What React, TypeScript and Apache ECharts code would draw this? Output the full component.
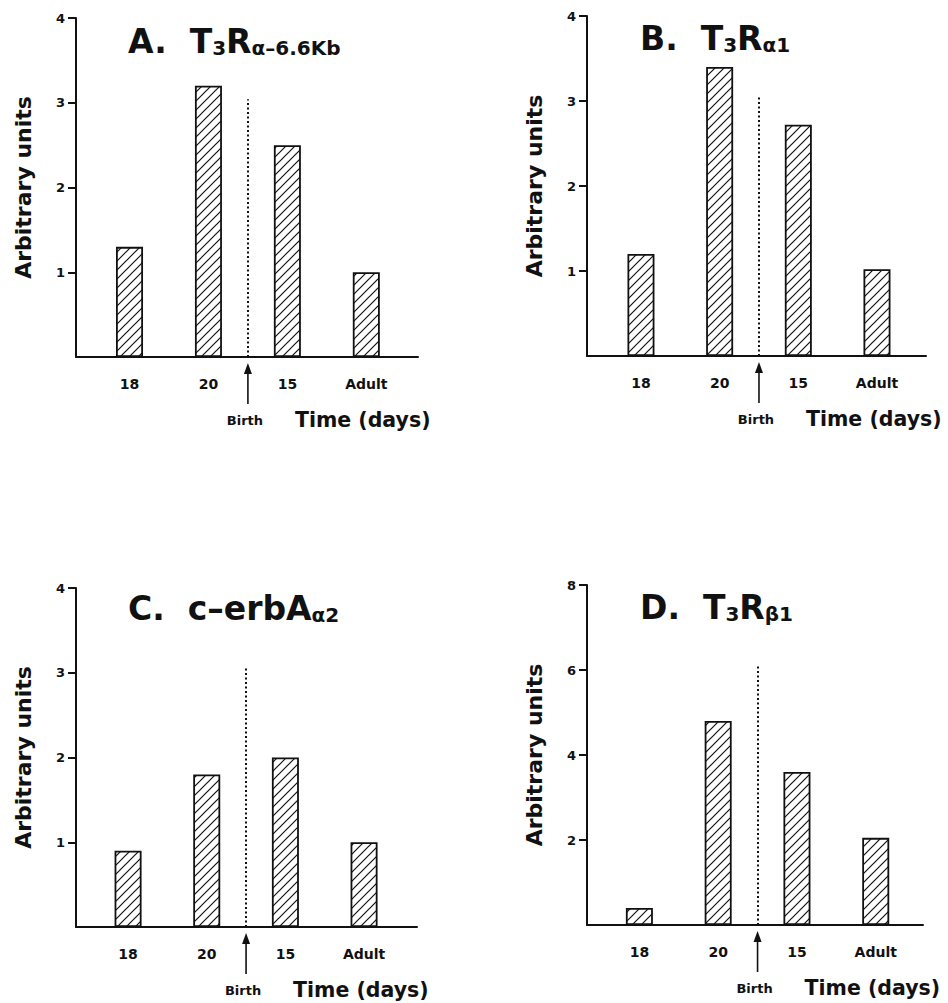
import React, { useEffect, useRef } from 'react';
import * as echarts from 'echarts';

const categories = ['18', '20', '15', 'Adult'];
const valuesA = [1.3, 3.2, 2.5, 1.0];
const valuesB = [1.2, 3.4, 2.72, 1.02];
const valuesC = [0.9, 1.8, 2.0, 1.0];
const valuesD = [0.4, 4.8, 3.6, 2.05];
const yMaxes = [4, 4, 4, 8];
const yIntervals = [1, 1, 1, 2];
const birthLineTops = [3.04, 3.05, 3.05, 6.08];
const birthPosition = 2.5;
const titleLetters = ['A.  ', 'B.  ', 'C.  ', 'D.  '];
const titleMains = [['T', '3', 'R', 'α–6.6Kb'], ['T', '3', 'R', 'α1'], ['c–erbA', '', '', 'α2'], ['T', '3', 'R', 'β1']];
const yAxisTitle = 'Arbitrary units';
const xAxisTitle = 'Time (days)';
const birthLabel = 'Birth';

const FONT = 'DejaVu Sans';
const INK = '#111';

const panels = [
  { left: 76, top: 18, width: 342, height: 339, xMin: 0.322, xMax: 4.655, titleX: 128, titleY: 38.5 },
  { left: 587, top: 16, width: 339, height: 340, xMin: 0.314, xMax: 4.623, titleX: 640, titleY: 36 },
  { left: 76, top: 588, width: 341, height: 339, xMin: 0.338, xMax: 4.673, titleX: 128, titleY: 606 },
  { left: 587, top: 585, width: 336, height: 340, xMin: 0.335, xMax: 4.6, titleX: 640, titleY: 605 },
];

const allValues = [valuesA, valuesB, valuesC, valuesD];

function makeHatch() {
  const s = 9;
  const c = document.createElement('canvas');
  c.width = s;
  c.height = s;
  const ctx = c.getContext('2d')!;
  ctx.fillStyle = '#fff';
  ctx.fillRect(0, 0, s, s);
  ctx.strokeStyle = INK;
  ctx.lineWidth = 1.2;
  ctx.beginPath();
  ctx.moveTo(-1, s + 1);
  ctx.lineTo(s + 1, -1);
  ctx.moveTo(-1, 1);
  ctx.lineTo(1, -1);
  ctx.moveTo(s - 1, s + 1);
  ctx.lineTo(s + 1, s - 1);
  ctx.stroke();
  return c;
}

export default function App() {
  const ref = useRef<HTMLDivElement>(null);
  useEffect(() => {
    if (!ref.current) return;
    const chart = echarts.init(ref.current, undefined, { renderer: 'svg' });
    const hatch = makeHatch();
    const pattern: any = { image: hatch, repeat: 'repeat', imageWidth: 9, imageHeight: 9 };

    const grid = panels.map((p) => ({ left: p.left, top: p.top, width: p.width, height: p.height, containLabel: false }));
    const xAxis = panels.map((p, i) => ({
      gridIndex: i,
      type: 'value',
      min: p.xMin,
      max: p.xMax,
      axisLine: { show: true, onZero: true, lineStyle: { color: INK, width: 2 } },
      axisTick: { show: false },
      splitLine: { show: false },
      axisLabel: {
        customValues: categories.map((_, k) => k + 1),
        formatter: (v: number) => categories[Math.round(v) - 1] ?? '',
        margin: 20,
        fontFamily: FONT,
        fontWeight: 'bold',
        fontSize: 14,
        color: INK,
      },
    }));
    const yAxis = panels.map((p, i) => ({
      gridIndex: i,
      type: 'value',
      min: 0,
      max: yMaxes[i],
      interval: yIntervals[i],
      name: yAxisTitle,
      nameLocation: 'middle',
      nameRotate: 90,
      nameGap: 42,
      nameTextStyle: { fontFamily: FONT, fontWeight: 'bold', fontSize: 22, color: INK },
      axisLine: { show: true, lineStyle: { color: INK, width: 2 } },
      axisTick: { show: true, length: 8, lineStyle: { color: INK, width: 2 } },
      axisLabel: { showMinLabel: false, margin: 11, fontFamily: FONT, fontWeight: 'bold', fontSize: 13, color: INK },
      splitLine: { show: false },
    }));
    const series = panels.map((p, i) => ({
      type: 'bar',
      xAxisIndex: i,
      yAxisIndex: i,
      barWidth: 27,
      data: categories.map((_, k) => [k + 1, allValues[i][k]]),
      itemStyle: { color: pattern, borderColor: INK, borderWidth: 1.8 },
      markLine: {
        silent: true,
        symbol: ['none', 'none'],
        label: { show: false },
        lineStyle: { color: INK, width: 2, type: [2, 2.5] },
        data: [[{ coord: [birthPosition, 0] }, { coord: [birthPosition, birthLineTops[i]] }]],
      },
    }));

    const titleGraphics = panels.map((p, i) => {
      const [t1, t2, t3, t4] = titleMains[i];
      let txt = `{m|${titleLetters[i]}${t1}}`;
      if (t2) txt += `{s|${t2}}`;
      if (t3) txt += `{m|${t3}}`;
      txt += `{s|${t4}}`;
      return {
        type: 'text',
        x: p.titleX,
        y: p.titleY,
        style: {
          text: txt,
          align: 'left',
          verticalAlign: 'middle',
          fill: INK,
          rich: {
            m: { fontFamily: FONT, fontWeight: 'bold', fontSize: 33, lineHeight: 38, verticalAlign: 'bottom', fill: INK },
            s: { fontFamily: FONT, fontWeight: 'bold', fontSize: 20, lineHeight: 21, verticalAlign: 'bottom', fill: INK },
          },
        },
      };
    });

    chart.setOption({
      animation: false,
      backgroundColor: '#fff',
      grid,
      xAxis,
      yAxis,
      series,
      graphic: titleGraphics,
    });

    const extra: any[] = [];
    panels.forEach((p, i) => {
      const pt = chart.convertToPixel({ gridIndex: i }, [birthPosition, 0]) as number[];
      const bx = pt[0];
      const by = pt[1];
      extra.push({
        type: 'line',
        shape: { x1: bx, y1: by + 15, x2: bx, y2: by + 47 },
        style: { stroke: INK, lineWidth: 1.6 },
      });
      extra.push({
        type: 'polygon',
        shape: { points: [[bx, by + 6], [bx - 4, by + 17], [bx + 4, by + 17]] },
        style: { fill: INK },
      });
      extra.push({
        type: 'text',
        x: bx - 3,
        y: by + 63,
        style: { text: birthLabel, align: 'center', verticalAlign: 'middle', fontFamily: FONT, fontWeight: 'bold', fontSize: 13, fill: INK },
      });
      extra.push({
        type: 'text',
        x: bx + 47,
        y: by + 63,
        style: { text: xAxisTitle, align: 'left', verticalAlign: 'middle', fontFamily: FONT, fontWeight: 'bold', fontSize: 20.5, fill: INK },
      });
    });
    chart.setOption({ graphic: [...titleGraphics, ...extra] });

    return () => chart.dispose();
  }, []);
  return <div ref={ref} style={{ position: 'absolute', left: 0, top: 0, width: 948, height: 1003 }} />;
}
